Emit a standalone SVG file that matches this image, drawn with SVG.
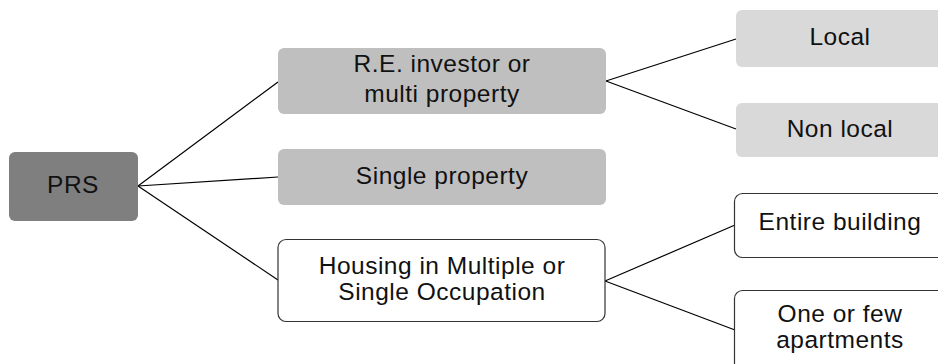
<svg xmlns="http://www.w3.org/2000/svg" width="938" height="364" viewBox="0 0 938 364">
<style>
text{font-family:"Liberation Sans",Arial,sans-serif;font-size:24.5px;letter-spacing:0.5px;fill:#111;text-anchor:middle}
.dark{fill:#7f7f7f}
.mid{fill:#bfbfbf}
.light{fill:#d9d9d9}
.white{fill:#fff;stroke:#333;stroke-width:1.2}
.conn line{stroke:#000;stroke-width:1.2}
</style>
<rect width="938" height="364" fill="#fff"/>
<g class="conn">
<line x1="138" y1="186" x2="278" y2="82"/>
<line x1="138" y1="186" x2="278" y2="177"/>
<line x1="138" y1="186" x2="278" y2="280"/>
<line x1="606" y1="81" x2="736" y2="39"/>
<line x1="606" y1="81" x2="736" y2="129"/>
<line x1="605" y1="281" x2="735" y2="225"/>
<line x1="605" y1="281" x2="735" y2="330"/>
</g>
<g id="prs"><rect class="dark" x="9" y="152" width="129" height="69" rx="6"/><text x="73" y="193">PRS</text></g>
<g id="investor"><rect class="mid" x="278" y="48" width="328" height="66" rx="6"/><text x="442" y="72">R.E. investor or</text><text x="442" y="102">multi property</text></g>
<g id="single"><rect class="mid" x="278" y="149" width="328" height="56" rx="6"/><text x="442" y="184">Single property</text></g>
<g id="hmo"><rect class="white" x="278" y="239.5" width="327" height="82" rx="8"/><text x="442" y="274">Housing in Multiple or</text><text x="442" y="300">Single Occupation</text></g>
<g id="local"><rect class="light" x="736" y="10" width="212" height="57" rx="6"/><text x="840" y="45">Local</text></g>
<g id="nonlocal"><rect class="light" x="736" y="103" width="212" height="54" rx="6"/><text x="840" y="137">Non local</text></g>
<g id="entire"><rect class="white" x="734.5" y="193.5" width="212" height="64" rx="8"/><text x="840" y="230">Entire building</text></g>
<g id="few"><rect class="white" x="734.5" y="290.5" width="212" height="90" rx="8"/><text x="840" y="322">One or few</text><text x="840" y="348">apartments</text></g>
</svg>
